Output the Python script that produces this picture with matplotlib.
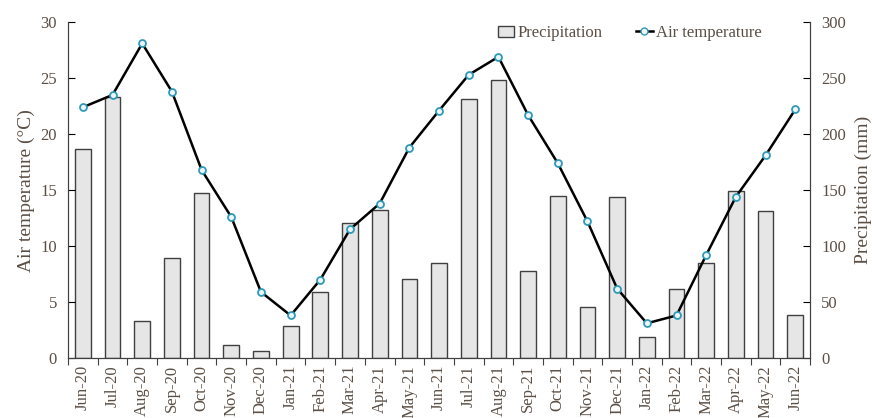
import matplotlib.pyplot as plt
import numpy as np
from matplotlib.lines import Line2D
from matplotlib.patches import Patch

months = ["Jun-20", "Jul-20", "Aug-20", "Sep-20", "Oct-20", "Nov-20", "Dec-20",
          "Jan-21", "Feb-21", "Mar-21", "Apr-21", "May-21", "Jun-21", "Jul-21",
          "Aug-21", "Sep-21", "Oct-21", "Nov-21", "Dec-21", "Jan-22", "Feb-22",
          "Mar-22", "Apr-22", "May-22", "Jun-22"]
air_temp = [22.4, 23.5, 28.1, 23.8, 16.8, 12.6, 5.9, 3.8, 7.0, 11.5, 13.8, 18.8,
            22.1, 25.3, 26.9, 21.7, 17.4, 12.2, 6.2, 3.1, 3.8, 9.2, 14.4, 18.1, 22.2]
precip = [187, 233, 33, 89, 147, 12, 6, 29, 59, 121, 132, 71, 85, 231, 248, 78,
          145, 46, 144, 19, 62, 85, 149, 131, 38]

plt.rcParams["font.family"] = ["Liberation Serif", "DejaVu Serif"]
text_col = "#5b4f45"

fig = plt.figure(figsize=(8.72, 4.18), dpi=100)
ax = fig.add_axes([0.078, 0.1435, 0.851, 0.8035])
ax2 = ax.twinx()
x = np.arange(len(months))

ax2.bar(x, precip, width=0.53, color="#e6e6e6", edgecolor="#404040", linewidth=1)
ax.plot(x, air_temp, color="black", linewidth=1.8, marker="o", markersize=5,
        markerfacecolor="#eef6fa", markeredgecolor="#2f9ab8", markeredgewidth=1.3)

ax.set_zorder(ax2.get_zorder() + 1)
ax.patch.set_visible(False)

ax.set_xlim(-0.5, len(months) - 0.5)
ax.set_ylim(0, 30)
ax2.set_ylim(0, 300)
ax.set_yticks(range(0, 31, 5))
ax2.set_yticks(range(0, 301, 50))

ax.set_xticks(np.arange(-0.5, len(months), 1))
ax.set_xticklabels([])
ax.set_xticks(x, minor=True)
ax.set_xticklabels(months, minor=True, rotation=90)
ax.tick_params(axis="x", which="major", direction="out", length=5, color="#404040")
ax.tick_params(axis="x", which="minor", length=0, pad=5, labelsize=12, labelcolor=text_col)
ax.tick_params(axis="y", direction="in", length=5, labelsize=12, labelcolor=text_col, pad=8)
ax2.tick_params(axis="y", direction="in", length=5, labelsize=12, labelcolor=text_col, pad=8)

for a in (ax, ax2):
    a.spines["top"].set_visible(False)
    for s in ("left", "right", "bottom"):
        a.spines[s].set_color("#404040")

ax.set_ylabel("Air temperature (°C)", fontsize=14, color=text_col, labelpad=4)
ax2.set_ylabel("Precipitation (mm)", fontsize=14, color=text_col, labelpad=6)

handles = [Patch(facecolor="#e6e6e6", edgecolor="#404040", linewidth=1),
           Line2D([], [], color="black", linewidth=1.8, marker="o", markersize=5,
                  markerfacecolor="#eef6fa", markeredgecolor="#2f9ab8")]
ax.legend(handles, ["Precipitation", "Air temperature"], loc="center",
          bbox_to_anchor=(0.757, 0.967), ncol=2, frameon=False, fontsize=12,
          labelcolor=text_col, handlelength=1.0, handletextpad=0.2, columnspacing=2.0)

fig.savefig("out.png", dpi=100)
